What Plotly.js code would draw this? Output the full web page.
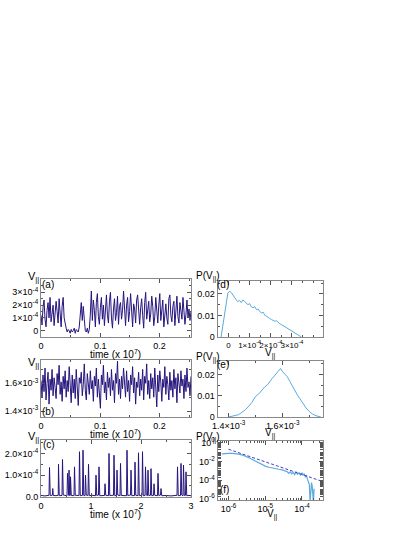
<!DOCTYPE html>
<html>
<head>
<meta charset="utf-8">
<script src="https://cdn.plot.ly/plotly-3.0.1.min.js"></script>
<style>
  html, body { margin: 0; padding: 0; background: #fff; }
  #graph { width: 415px; height: 537px; }
</style>
</head>
<body>
<div id="graph"></div>
<script>
/* Datos */

// (a) V|| vs tiempo, unidades 1e-4, tiempo en 1e7
const aSpan = 0.253;
const aVal = [1.2, 0.5, 1.8, 2.4, 0.9, 0.3, 1.6, 2.2, 1.0, 2.6, 0.7, 1.4, 2.0, 0.4, 1.1, 2.3, 1.5, 0.6, 2.5, 1.2, 0.3, 1.9, 2.6, 1.0, 0.5,
  0.2, -0.1, 0.1, 0.0, -0.2, 0.1, -0.1, 0.0, 0.2, -0.2, 0.1, 0.0, -0.1, 0.3,
  1.5, 2.2, 0.8, 1.9, 0.9,
  0.0, -0.1, 0.2, -0.2, 0.1,
  1.3, 3.1, 0.8, 2.4, 1.6, 0.3, 2.2, 2.9, 1.1, 0.5, 1.8, 2.6, 0.9, 2.0, 0.4, 1.5, 2.8, 1.2, 0.6, 2.3,
  3.0, 1.0, 0.2, 1.7, 2.5, 0.8, 1.4, 2.7, 0.5, 1.9, 2.2, 0.9, 1.6, 3.1, 1.3, 0.4, 2.0, 2.6, 0.7, 1.5,
  2.9, 1.1, 0.3, 2.1, 1.7, 0.6, 2.4, 2.8, 1.0, 0.5, 1.8, 2.5, 1.2, 0.2, 2.2, 3.0, 0.9, 1.6, 2.3, 0.7,
  1.3, 2.7, 1.9, 0.4, 1.1, 2.6, 1.4, 0.6, 2.0, 2.9, 0.8, 1.5, 2.4, 0.3, 1.7, 2.1, 1.0, 0.5, 2.5, 2.8,
  1.2, 0.7, 1.9, 2.3, 0.4, 1.6, 2.7, 1.1, 0.6, 2.2, 1.4, 0.9, 2.6, 1.8, 0.5, 1.3, 2.4, 1.0, 1.7, 0.8, 1.5];

// (b) V|| vs tiempo, unidades 1e-3
const bSpan = 0.253;
const bVal = [1.62, 1.50, 1.66, 1.54, 1.71, 1.48, 1.60, 1.68, 1.45, 1.63, 1.55, 1.70, 1.51, 1.64, 1.57, 1.49, 1.67, 1.59, 1.73, 1.52,
  1.61, 1.47, 1.65, 1.56, 1.69, 1.50, 1.62, 1.54, 1.72, 1.58, 1.46, 1.66, 1.53, 1.63, 1.49, 1.70, 1.57, 1.44, 1.64, 1.60,
  1.68, 1.51, 1.59, 1.74, 1.55, 1.48, 1.67, 1.61, 1.52, 1.69, 1.56, 1.62, 1.47, 1.65, 1.58, 1.71, 1.50, 1.63, 1.54, 1.42,
  1.66, 1.59, 1.73, 1.53, 1.61, 1.48, 1.68, 1.57, 1.64, 1.51, 1.70, 1.55, 1.62, 1.46, 1.67, 1.60, 1.76, 1.52, 1.63, 1.49,
  1.65, 1.56, 1.71, 1.58, 1.50, 1.69, 1.54, 1.62, 1.47, 1.66, 1.59, 1.72, 1.53, 1.64, 1.45, 1.61, 1.57, 1.68, 1.51, 1.63,
  1.55, 1.70, 1.48, 1.65, 1.60, 1.74, 1.52, 1.62, 1.49, 1.67, 1.56, 1.64, 1.50, 1.71, 1.58, 1.43, 1.66, 1.54, 1.69, 1.61,
  1.47, 1.63, 1.57, 1.72, 1.52, 1.65, 1.59, 1.48, 1.68, 1.55, 1.62, 1.50, 1.70, 1.56, 1.64, 1.46, 1.67, 1.60, 1.53, 1.69,
  1.58, 1.63, 1.49, 1.66, 1.54, 1.71, 1.57, 1.61, 1.51, 1.65];

// (c) V|| vs tiempo (picos), unidades 1e-4
const cTime = [0, 0.08, 0.16, 0.17, 0.185, 0.23, 0.235, 0.245, 0.30, 0.345, 0.35, 0.365, 0.42, 0.43, 0.445,
  0.52, 0.53, 0.545, 0.555, 0.56, 0.575, 0.585, 0.59, 0.605, 0.66, 0.67, 0.685, 0.76, 0.77, 0.785,
  0.83, 0.84, 0.855, 0.88, 0.89, 0.905, 0.94, 0.95, 0.965, 1.02, 1.09, 1.10, 1.115, 1.15, 1.16, 1.175,
  1.27, 1.28, 1.295, 1.35, 1.36, 1.375, 1.45, 1.46, 1.475, 1.51, 1.52, 1.535, 1.58, 1.59, 1.605, 1.65,
  1.71, 1.72, 1.735, 1.79, 1.80, 1.815, 1.87, 1.88, 1.895, 1.94, 1.95, 1.965, 2.02, 2.03, 2.045,
  2.08, 2.09, 2.105, 2.13, 2.14, 2.155, 2.19, 2.20, 2.215, 2.25, 2.26, 2.275, 2.33, 2.34, 2.355,
  2.39, 2.40, 2.415, 2.5, 2.6, 2.72, 2.73, 2.745, 2.79, 2.80, 2.815, 2.84, 2.85, 2.865, 2.89, 2.90, 2.915, 2.96, 3.0];
const cVal = [0.06, 0.04, 0.07, 1.35, 0.05, 0.08, 0.38, 0.06, 0.05, 0.07, 1.50, 0.05, 0.06, 1.72, 0.08,
  0.05, 1.08, 0.07, 0.06, 1.23, 0.05, 0.08, 0.92, 0.06, 0.05, 1.38, 0.07, 0.06, 2.08, 0.05,
  0.07, 2.15, 0.06, 0.05, 1.00, 0.08, 0.06, 1.50, 0.05, 0.07, 0.05, 1.00, 0.06, 0.08, 1.38, 0.05,
  0.06, 0.60, 0.07, 0.05, 2.00, 0.06, 0.07, 1.92, 0.05, 0.06, 1.23, 0.08, 0.05, 1.54, 0.06, 0.07,
  0.05, 2.15, 0.06, 0.08, 1.23, 0.05, 0.06, 1.60, 0.07, 0.05, 2.03, 0.06, 0.07, 2.08, 0.05,
  0.06, 1.38, 0.08, 0.05, 1.23, 0.06, 0.07, 1.30, 0.05, 0.06, 0.60, 0.07, 0.05, 1.08, 0.06,
  0.08, 0.38, 0.05, 0.06, 0.04, 0.07, 1.38, 0.05, 0.06, 1.54, 0.08, 0.05, 1.46, 0.06, 0.07, 1.15, 0.05, 0.06, 0.05];

// (d) distribucion P(V||), V en 1e-4
const dV = [-0.35, -0.27, -0.19, -0.11, -0.03, 0.05, 0.13, 0.21, 0.29, 0.37, 0.44, 0.52, 0.60, 0.68, 0.76, 0.84, 0.92,
  1.00, 1.08, 1.16, 1.24, 1.32, 1.40, 1.48, 1.56, 1.64, 1.72, 1.79, 1.87, 1.95, 2.03, 2.11, 2.19, 2.27, 2.35,
  2.43, 2.51, 2.59, 2.67, 2.75, 2.83, 2.91, 2.98, 3.06, 3.14, 3.22, 3.30, 3.38, 3.43];
const dP = [0.0000, 0.0055, 0.0112, 0.0165, 0.0205, 0.0212, 0.0207, 0.0195, 0.0181, 0.0172, 0.0164, 0.0170, 0.0160,
  0.0172, 0.0165, 0.0158, 0.0150, 0.0155, 0.0140, 0.0136, 0.0141, 0.0127, 0.0130, 0.0118, 0.0112, 0.0115, 0.0100,
  0.0097, 0.0090, 0.0086, 0.0081, 0.0078, 0.0073, 0.0075, 0.0066, 0.0061, 0.0057, 0.0052, 0.0046, 0.0042, 0.0036,
  0.0030, 0.0026, 0.0021, 0.0018, 0.0014, 0.0009, 0.0004, 0.0001];

// (e) distribucion P(V||), V en 1e-3
const eV = [1.400, 1.412, 1.425, 1.437, 1.449, 1.462, 1.474, 1.486, 1.499, 1.511, 1.524, 1.533, 1.543, 1.552, 1.561,
  1.571, 1.580, 1.586, 1.592, 1.598, 1.605, 1.611, 1.617, 1.626, 1.636, 1.645, 1.654, 1.664, 1.673, 1.686,
  1.698, 1.710, 1.723, 1.732, 1.741];
const eP = [0, 0.0003, 0.0006, 0.0011, 0.0022, 0.0034, 0.0050, 0.0068, 0.0096, 0.0108, 0.0127, 0.0141, 0.0150, 0.0168,
  0.0181, 0.0196, 0.0212, 0.0220, 0.0228, 0.0215, 0.0205, 0.0198, 0.0189, 0.0168, 0.0143, 0.0125, 0.0104, 0.0085,
  0.0065, 0.0043, 0.0026, 0.0014, 0.0006, 0.0002, 0];

// (f) log-log, exponentes base 10
const fLogV = [-6.18, -6.10, -6.00, -5.90, -5.80, -5.72, -5.62, -5.53, -5.45, -5.35, -5.25, -5.15, -5.08, -5.00, -4.90,
  -4.81, -4.72, -4.63, -4.54, -4.45, -4.40, -4.36, -4.32, -4.28, -4.24, -4.20, -4.16, -4.12, -4.08, -4.04, -4.00,
  -3.97, -3.94, -3.91, -3.88, -3.85, -3.82, -3.80, -3.78, -3.76, -3.74, -3.72, -3.69, -3.67];
const fLogP = [-1.18, -1.14, -1.12, -1.13, -1.16, -1.21, -1.30, -1.42, -1.57, -1.78, -1.98, -2.18, -2.34, -2.48, -2.60,
  -2.70, -2.76, -2.82, -2.88, -2.96, -3.08, -3.25, -3.10, -3.30, -3.15, -3.38, -3.12, -3.35, -3.18, -3.45, -3.20,
  -3.48, -3.28, -3.62, -3.50, -3.90, -4.15, -4.45, -6.30, -4.50, -4.25, -4.70, -6.30, -4.90];
// ajuste de ley de potencia (linea discontinua)
const fitLogV = [-6.0, -3.42];
const fitLogP = [-0.68, -4.15];

/* Estetica */
const DARK = 'rgb(38,20,125)';
const LIGHTBLUE = 'rgb(90,170,222)';
const FONT = 'Liberation Sans, Arial, sans-serif';

const sup = (m, e) => m + '×10<sup>' + e + '</sup>';

function ax(extra) {
  return Object.assign({
    showline: true, mirror: 'allticks', linecolor: '#888', linewidth: 1,
    ticks: 'inside', ticklen: 4, tickcolor: '#555', tickwidth: 1, tickangle: 0,
    showgrid: false, zeroline: false, fixedrange: true,
    tickfont: {size: 9, color: '#000', family: FONT}
  }, extra);
}

const L = [41 / 415, 191 / 415];
const R = [217.5 / 415, 323.3 / 415];
const rowA = [1 - 337 / 537, 1 - 279 / 537];
const rowB = [1 - 417 / 537, 1 - 360 / 537];
const rowC = [1 - 497 / 537, 1 - 440 / 537];
const rowD = [1 - 337 / 537, 1 - 281 / 537];
const rowE = [1 - 417 / 537, 1 - 361 / 537];
const rowF = [1 - 500 / 537, 1 - 441 / 537];

const traces = [
  {x: aVal.map((v, i) => i * aSpan / (aVal.length - 1)), y: aVal.map(v => v * 1e-4),
   xaxis: 'x', yaxis: 'y', type: 'scatter', mode: 'lines', line: {color: DARK, width: 1}},
  {x: bVal.map((v, i) => i * bSpan / (bVal.length - 1)), y: bVal.map(v => v * 1e-3),
   xaxis: 'x2', yaxis: 'y2', type: 'scatter', mode: 'lines', line: {color: DARK, width: 1}},
  {x: cTime, y: cVal.map(v => v * 1e-4),
   xaxis: 'x3', yaxis: 'y3', type: 'scatter', mode: 'lines', line: {color: DARK, width: 1}},
  {x: dV.map(v => v * 1e-4), y: dP,
   xaxis: 'x4', yaxis: 'y4', type: 'scatter', mode: 'lines', line: {color: LIGHTBLUE, width: 1}},
  {x: eV.map(v => v * 1e-3), y: eP,
   xaxis: 'x5', yaxis: 'y5', type: 'scatter', mode: 'lines', line: {color: LIGHTBLUE, width: 1}},
  {x: fLogV.map(v => Math.pow(10, v)), y: fLogP.map(v => Math.pow(10, v)),
   xaxis: 'x6', yaxis: 'y6', type: 'scatter', mode: 'lines', line: {color: LIGHTBLUE, width: 1.2}},
  {x: fitLogV.map(v => Math.pow(10, v)), y: fitLogP.map(v => Math.pow(10, v)),
   xaxis: 'x6', yaxis: 'y6', type: 'scatter', mode: 'lines', line: {color: 'rgb(70,60,200)', width: 1, dash: '3px,2px'}}
];

const timeTitle = 'time (x 10<sup>7</sup>)';
const vpar = 'V<sub>||</sub>';
const pvpar = 'P(V<sub>||</sub>)';

function note(text, x, y, size, xanchor) {
  return {text: text, xref: 'paper', yref: 'paper', x: x / 415, y: 1 - y / 537,
    xanchor: xanchor || 'center', yanchor: 'middle', showarrow: false,
    font: {size: size, color: '#000', family: FONT}};
}

const minor = (d, len) => ({dtick: d, ticks: 'inside', ticklen: len || 2, tickcolor: '#555'});

const layout = {
  width: 415, height: 537, autosize: false,
  margin: {l: 0, r: 0, t: 0, b: 0},
  paper_bgcolor: '#fff', plot_bgcolor: '#fff',
  showlegend: false,
  font: {family: FONT, color: '#000'},
  xaxis: ax({domain: L, anchor: 'y', range: [0, 0.253], tickmode: 'array', tickvals: [0, 0.1, 0.2],
    ticktext: ['0', '0.1', '0.2'], minor: minor(0.05)}),
  yaxis: ax({domain: rowA, anchor: 'x', range: [-0.49e-4, 4.04e-4], tickmode: 'array',
    tickvals: [0, 1e-4, 2e-4, 3e-4], ticktext: ['0', sup(1, -4), sup(2, -4), sup(3, -4)],
    minor: minor(0.5e-4)}),
  xaxis2: ax({domain: L, anchor: 'y2', range: [0, 0.253], tickmode: 'array', tickvals: [0, 0.1, 0.2],
    ticktext: ['0', '0.1', '0.2'], minor: minor(0.05)}),
  yaxis2: ax({domain: rowB, anchor: 'x2', range: [1.357e-3, 1.768e-3], tickmode: 'array',
    tickvals: [1.4e-3, 1.6e-3], ticktext: [sup(1.4, -3), sup(1.6, -3)],
    minor: minor(0.1e-3)}),
  xaxis3: ax({domain: L, anchor: 'y3', range: [0, 3], tickmode: 'array', tickvals: [0, 1, 2, 3],
    ticktext: ['0', '1', '2', '3'], minor: minor(0.5)}),
  yaxis3: ax({domain: rowC, anchor: 'x3', range: [-0.01e-4, 2.62e-4], tickmode: 'array',
    tickvals: [0, 1e-4, 2e-4], ticktext: ['0.0', sup('1.0', -4), sup('2.0', -4)],
    minor: minor(0.5e-4)}),
  xaxis4: ax({domain: R, anchor: 'y4', range: [-0.52e-4, 4.48e-4], tickmode: 'array',
    tickvals: [0, 1e-4, 2e-4, 3e-4], ticktext: ['0', sup(1, -4), sup(2, -4), sup(3, -4)],
    minor: minor(0.5e-4), tickfont: {size: 8, color: '#000', family: FONT}}),
  yaxis4: ax({domain: rowD, anchor: 'x4', range: [0, 0.026], tickmode: 'array',
    tickvals: [0, 0.01, 0.02], ticktext: ['0', '0.01', '0.02'], minor: minor(0.005)}),
  xaxis5: ax({domain: R, anchor: 'y5', range: [1.359e-3, 1.75e-3], tickmode: 'array',
    tickvals: [1.4e-3, 1.6e-3], ticktext: [sup(1.4, -3), sup(1.6, -3)], minor: minor(0.1e-3)}),
  yaxis5: ax({domain: rowE, anchor: 'x5', range: [0, 0.0263], tickmode: 'array',
    tickvals: [0, 0.01, 0.02], ticktext: ['0', '0.01', '0.02'], minor: minor(0.005)}),
  xaxis6: ax({domain: R, anchor: 'y6', type: 'log', range: [-6.3, -3.42], tickmode: 'array',
    tickvals: [1e-6, 1e-5, 1e-4], ticktext: ['10<sup>-6</sup>', '10<sup>-5</sup>', '10<sup>-4</sup>'],
    minor: minor('D1')}),
  yaxis6: ax({domain: rowF, anchor: 'x6', type: 'log', range: [-6.1, 0.2], tickmode: 'array',
    tickvals: [1, 1e-2, 1e-4, 1e-6], ticktext: ['10<sup>0</sup>', '10<sup>-2</sup>', '10<sup>-4</sup>', '10<sup>-6</sup>'],
    minor: minor('D1', 3)}),
  annotations: [
    note(vpar, 26, 277, 11, 'left'),
    note(vpar, 26, 363, 11, 'left'),
    note(vpar, 26, 437, 11, 'left'),
    note(pvpar, 194, 276, 10, 'left'),
    note(pvpar, 194, 357, 10, 'left'),
    note(pvpar, 194, 437, 10, 'left'),
    note(timeTitle, 115, 354, 10),
    note(timeTitle, 115, 434, 10),
    note(timeTitle, 115, 514, 10),
    note(vpar, 270, 353, 10),
    note(vpar, 270, 433, 10),
    note(vpar, 272, 514, 10),
    note('(a)', 48, 284.5, 10),
    note('(b)', 48, 411.5, 10),
    note('(c)', 49, 444, 10),
    note('(d)', 223, 284, 10),
    note('(e)', 223, 364, 10),
    note('(f)', 224, 489, 10)
  ]
};

Plotly.newPlot(document.getElementById('graph'), traces, layout, {staticPlot: true, displayModeBar: false});
</script>
</body>
</html>
